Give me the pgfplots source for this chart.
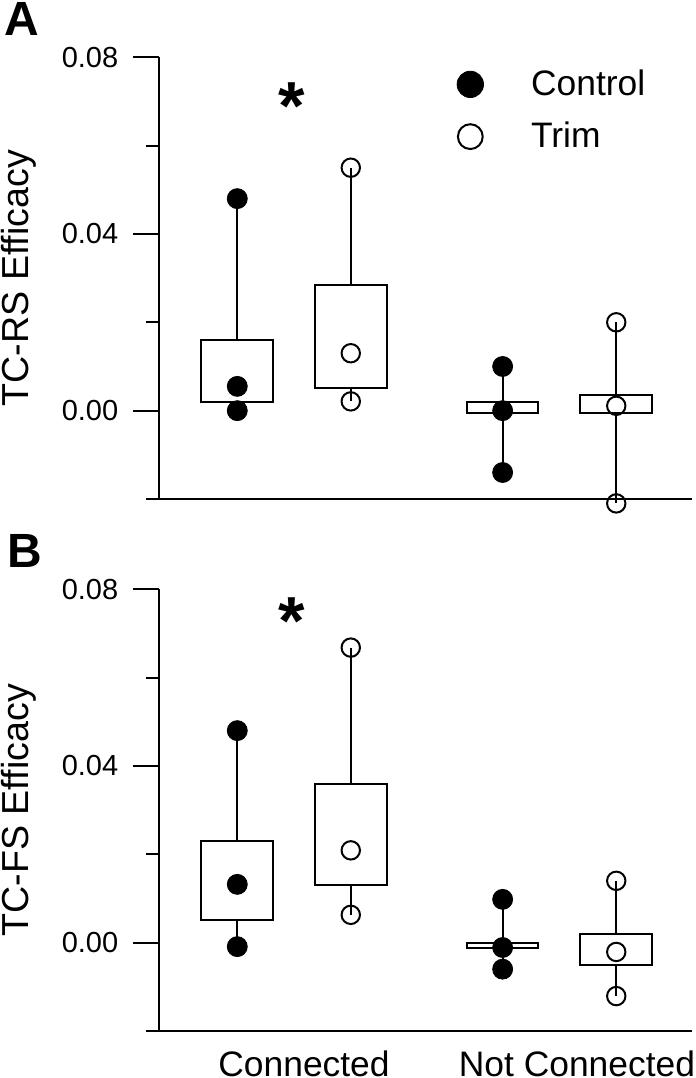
\documentclass[border=0pt]{standalone}
\usepackage{fontspec}
\setmainfont{Liberation Sans}
\usepackage{pgfplots}
\pgfplotsset{compat=1.18}
\usepgfplotslibrary{statistics}

\pgfplotsset{
  panel/.style={
    scale only axis, width=266.5pt, height=220.85pt,
    xmin=0.313, xmax=5.009, ymin=-0.02, ymax=0.08,
    axis x line=bottom, axis y line=left,
    axis line style={-, line width=1pt, black},
    clip=false,
    boxplot/draw direction=y,
    ytick={0,0.04,0.08}, minor ytick={-0.02,0.02,0.06},
    tick align=outside, major tick length=13pt, minor tick length=6.5pt,
    ytick style={line width=1pt, black}, minor tick style={line width=1pt, black},
    xtick style={draw=none},
    scaled y ticks=false,
    /pgf/number format/fixed, /pgf/number format/fixed zerofill,
    /pgf/number format/precision=2, /pgf/number format/assume math mode=true,
    yticklabel style={font=\fontsize{14.5}{17}\selectfont, anchor=east, inner sep=0pt, xshift=-7.35pt},
    xticklabel style={font=\fontsize{17.7}{21}\selectfont, anchor=north, inner sep=0pt, yshift=3.2pt},
    ylabel style={font=\fontsize{18.8}{22}\selectfont, at={(axis description cs:-0.297,0.5)}, anchor=north, inner sep=0pt},
  },
  bx/.style={black, line width=1pt, forget plot},
  cpts/.style={only marks, mark=*, mark size=5pt, black, forget plot},
  tpts/.style={only marks, mark=o, mark size=4.6pt, black, mark options={line width=1pt}, forget plot},
}

\begin{document}
\begin{tikzpicture}
\useasboundingbox (0,0) rectangle (348pt,539pt);

% ---------------- Panel A ----------------
\begin{axis}[panel, at={(79.65pt,289.5pt)}, anchor=south west,
  xtick=\empty, ylabel={TC-RS Efficacy},
  legend style={draw=none, fill=none, inner sep=0pt,
    at={(axis description cs:0.558,0.972)}, anchor=north west,
    font=\fontsize{17.7}{21}\selectfont, row sep=11.8pt,
    nodes={inner sep=0pt},
    /tikz/every odd column/.append style={column sep=23.8pt}},
  legend cell align=left,
  legend image code/.code={\draw[#1] plot coordinates {(0pt,0pt)};},
]
\addlegendimage{only marks, mark=*, mark size=6.6pt, black}
\addlegendentry{Control}
\addlegendimage{only marks, mark=o, mark size=6.2pt, black, mark options={line width=1pt}}
\addlegendentry{Trim}

\addplot[bx, boxplot prepared={draw position=1, lower whisker=0.0, lower quartile=0.0020, median=0.0020, upper quartile=0.0160, upper whisker=0.048, box extend=0.631, whisker extend=0}] coordinates {};
\addplot[bx, boxplot prepared={draw position=2, lower whisker=0.0021, lower quartile=0.0051, median=0.0051, upper quartile=0.0285, upper whisker=0.055, box extend=0.631, whisker extend=0}] coordinates {};
\addplot[bx, boxplot prepared={draw position=3.338, lower whisker=-0.014, lower quartile=-0.0005, median=-0.0005, upper quartile=0.0020, upper whisker=0.010, box extend=0.631, whisker extend=0}] coordinates {};
\addplot[bx, boxplot prepared={draw position=4.339, lower whisker=-0.021, lower quartile=-0.0005, median=-0.0005, upper quartile=0.0035, upper whisker=0.020, box extend=0.631, whisker extend=0}] coordinates {};

\addplot[cpts] coordinates {(1,0.048) (1,0.0055) (1,0.0)};
\addplot[tpts] coordinates {(2,0.055) (2,0.0130) (2,0.0021)};
\addplot[cpts] coordinates {(3.338,0.010) (3.338,0.0) (3.338,-0.014)};
\addplot[tpts] coordinates {(4.339,0.020) (4.339,0.0011) (4.339,-0.021)};

\node[font=\bfseries\fontsize{34}{40}\selectfont, anchor=north, inner sep=0pt] at (axis cs:1.478,0.0744) {*};
\end{axis}

% ---------------- Panel B ----------------
\begin{axis}[panel, at={(79.65pt,23.5pt)}, anchor=south west,
  xtick={1.588,3.993}, xticklabels={Connected,Not Connected},
  ylabel={TC-FS Efficacy},
]
\addplot[bx, boxplot prepared={draw position=1, lower whisker=-0.0009, lower quartile=0.0051, median=0.0051, upper quartile=0.0230, upper whisker=0.048, box extend=0.631, whisker extend=0}] coordinates {};
\addplot[bx, boxplot prepared={draw position=2, lower whisker=0.0063, lower quartile=0.0131, median=0.0131, upper quartile=0.0360, upper whisker=0.0668, box extend=0.631, whisker extend=0}] coordinates {};
\addplot[bx, boxplot prepared={draw position=3.338, lower whisker=-0.0060, lower quartile=-0.0012, median=-0.0012, upper quartile=0.0000, upper whisker=0.0098, box extend=0.631, whisker extend=0}] coordinates {};
\addplot[bx, boxplot prepared={draw position=4.339, lower whisker=-0.0121, lower quartile=-0.0050, median=-0.0050, upper quartile=0.0019, upper whisker=0.0140, box extend=0.631, whisker extend=0}] coordinates {};

\addplot[cpts] coordinates {(1,0.048) (1,0.0132) (1,-0.0009)};
\addplot[tpts] coordinates {(2,0.0668) (2,0.0209) (2,0.0063)};
\addplot[cpts] coordinates {(3.338,0.0098) (3.338,-0.0011) (3.338,-0.0060)};
\addplot[tpts] coordinates {(4.339,0.0140) (4.339,-0.0021) (4.339,-0.0121)};

\node[font=\bfseries\fontsize{34}{40}\selectfont, anchor=north, inner sep=0pt] at (axis cs:1.478,0.0782) {*};
\end{axis}

\node[font=\bfseries\fontsize{24}{28}\selectfont, anchor=base west, inner sep=0pt] at (2pt,521pt) {A};
\node[font=\bfseries\fontsize{24}{28}\selectfont, anchor=base west, inner sep=0pt] at (3.3pt,255pt) {B};
\end{tikzpicture}
\end{document}
